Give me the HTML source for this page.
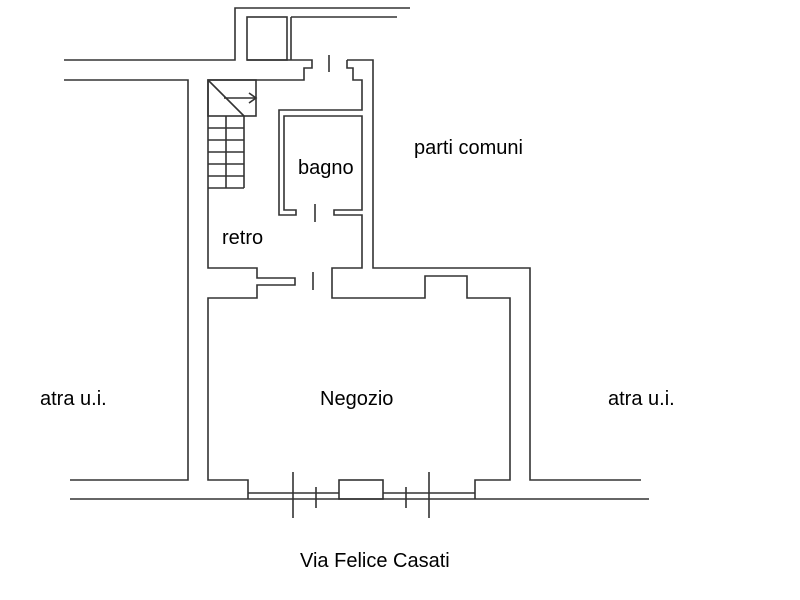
<!DOCTYPE html>
<html><head><meta charset="utf-8"><style>
html,body{margin:0;padding:0;background:#fff;}
svg{display:block;}
text{font-family:"Liberation Sans",Arial,sans-serif;font-size:20px;fill:#000;}
</style></head><body>
<svg width="800" height="600" viewBox="0 0 800 600" xmlns="http://www.w3.org/2000/svg">
<g fill="none" stroke="#333" stroke-width="1.6">
<polyline points="410,8 235,8 235,60 64,60"/>
<rect x="247" y="17" width="40" height="43"/>
<line x1="291" y1="17" x2="291" y2="60"/>
<line x1="291" y1="17" x2="397" y2="17"/>
<polyline points="247,60 312,60 312,68 304,68 304,80 208,80 208,268 257,268 257,278 295,278 295,285 257,285 257,298 208,298 208,480 248,480 248,499"/>
<line x1="329" y1="55" x2="329" y2="72"/>
<polyline points="347,60 373,60 373,268 530,268 530,480 641,480"/>
<polyline points="347,60 347,68 353,68 353,80 362,80 362,110 279,110 279,215 296,215 296,210 284,210 284,116 362,116 362,210 334,210 334,215 362,215 362,268 332,268 332,298 425,298 425,276 467,276 467,298 510,298 510,480 475,480 475,499"/>
<line x1="315" y1="204" x2="315" y2="222"/>
<line x1="313" y1="272" x2="313" y2="290"/>
<polyline points="64,80 188,80 188,480 70,480"/>
<line x1="70" y1="499" x2="649" y2="499"/>
<line x1="248" y1="493" x2="339" y2="493"/>
<rect x="339" y="480" width="44" height="19"/>
<line x1="383" y1="493" x2="475" y2="493"/>
<line x1="293" y1="472" x2="293" y2="518"/>
<line x1="316" y1="487" x2="316" y2="508"/>
<line x1="406" y1="487" x2="406" y2="508"/>
<line x1="429" y1="472" x2="429" y2="518"/>
<rect x="208" y="80" width="48" height="36"/>
<line x1="208" y1="80" x2="244" y2="116"/>
<line x1="224" y1="98" x2="256" y2="98"/>
<polyline points="249,93 256,98 249,103"/>
<line x1="226" y1="116" x2="226" y2="188"/>
<line x1="244" y1="116" x2="244" y2="188"/>
<line x1="208" y1="128" x2="244" y2="128"/>
<line x1="208" y1="140" x2="244" y2="140"/>
<line x1="208" y1="152" x2="244" y2="152"/>
<line x1="208" y1="164" x2="244" y2="164"/>
<line x1="208" y1="176" x2="244" y2="176"/>
<line x1="208" y1="188" x2="244" y2="188"/>
</g>
<text x="414" y="154">parti comuni</text>
<text x="298" y="174">bagno</text>
<text x="222" y="244">retro</text>
<text x="320" y="405">Negozio</text>
<text x="40" y="405">atra u.i.</text>
<text x="608" y="405">atra u.i.</text>
<text x="300" y="567">Via Felice Casati</text>
</svg>
</body></html>
